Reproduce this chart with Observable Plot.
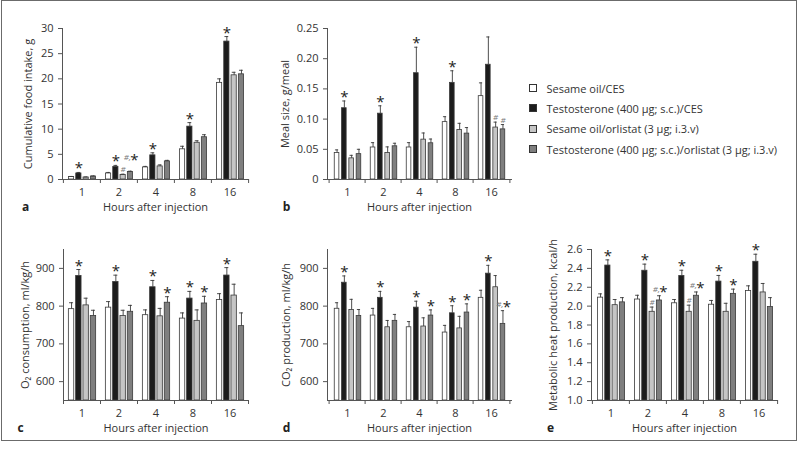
<!DOCTYPE html>
<html><head><meta charset="utf-8">
<script src="https://cdn.jsdelivr.net/npm/d3@7"></script>
<script src="https://cdn.jsdelivr.net/npm/@observablehq/plot@0.6"></script>
<style>
body{margin:0;background:#fff;font-family:"Open Sans",sans-serif;}
#fig{position:relative;width:800px;height:453px;overflow:hidden;}
.border{position:absolute;left:1px;top:0px;width:794px;height:439px;border:1.8px solid #6b6b6b;}
.panel{position:absolute;}
.legend{position:absolute;left:529px;top:78px;font-size:11px;color:#333;}
.legend .row{display:flex;align-items:center;height:20.3px;white-space:nowrap;}
.legend .sw{width:6px;height:6px;border:0.8px solid #333;margin-right:9.5px;flex:none;}
</style></head>
<body><div id="fig"><div class="border"></div></div>
<script>
// ---- categories & series ----
const hours = ["1", "2", "4", "8", "16"];
const seriesNames = [
  "Sesame oil/CES",
  "Testosterone (400 µg; s.c.)/CES",
  "Sesame oil/orlistat (3 µg; i.3.v)",
  "Testosterone (400 µg; s.c.)/orlistat (3 µg; i.3.v)"
];
const seriesFill = ["#ffffff", "#1c1c1c", "#c5c5c5", "#7f7f7f"];

// ---- (a) cumulative food intake, g ----
const foodMean = [[0.5, 1.2, 2.4, 6.0, 19.2], [1.2, 2.5, 4.8, 10.5, 27.4], [0.4, 0.9, 2.6, 7.3, 20.7], [0.6, 1.5, 3.6, 8.4, 20.9]];
const foodErr  = [[0.1, 0.2, 0.2, 0.6, 0.8], [0.2, 0.3, 0.5, 0.8, 1.0], [0.1, 0.15, 0.3, 0.4, 0.6], [0.1, 0.15, 0.2, 0.5, 0.8]];
const foodAnn  = [[1, "1", "*"], [1, "2", "*"], [2, "2", "#"], [3, "2", "#*"], [1, "4", "*"], [1, "8", "*"], [1, "16", "*"]];
const foodDomain = [0, 30];
const foodTicks = [0, 5, 10, 15, 20, 25, 30];
const foodTickLabels = ["0", "5", "10", "15", "20", "25", "30"];

// ---- (b) meal size, g/meal ----
const mealMean = [[0.044, 0.053, 0.053, 0.095, 0.138], [0.118, 0.109, 0.176, 0.160, 0.190], [0.035, 0.044, 0.066, 0.082, 0.086], [0.042, 0.055, 0.060, 0.076, 0.083]];
const mealErr  = [[0.005, 0.008, 0.008, 0.009, 0.022], [0.012, 0.013, 0.043, 0.020, 0.046], [0.005, 0.010, 0.011, 0.011, 0.009], [0.008, 0.005, 0.007, 0.010, 0.008]];
const mealAnn  = [[1, "1", "*"], [1, "2", "*"], [1, "4", "*"], [1, "8", "*"], [2, "16", "#"], [3, "16", "#"]];
const mealDomain = [0, 0.25];
const mealTicks = [0, 0.05, 0.10, 0.15, 0.20, 0.25];
const mealTickLabels = ["0", "0.05", "0.10", "0.15", "0.20", "0.25"];

// ---- (c) O2 consumption, ml/kg/h ----
const o2Mean = [[792, 796, 776, 767, 816], [880, 864, 850, 820, 881], [802, 774, 773, 761, 828], [774, 785, 809, 807, 747]];
const o2Err  = [[17, 16, 14, 15, 17], [17, 18, 18, 19, 21], [19, 15, 21, 29, 30], [15, 17, 16, 19, 35]];
const o2Ann  = [[1, "1", "*"], [1, "2", "*"], [1, "4", "*"], [3, "4", "*"], [1, "8", "*"], [3, "8", "*"], [1, "16", "*"]];
const o2Domain = [550, 950];
const o2Ticks = [600, 700, 800, 900];
const o2TickLabels = ["600", "700", "800", "900"];

// ---- (d) CO2 production, ml/kg/h ----
const co2Mean = [[793, 775, 744, 730, 822], [862, 822, 796, 781, 886], [790, 744, 746, 741, 850], [774, 761, 775, 783, 753]];
const co2Err  = [[16, 19, 15, 19, 20], [18, 17, 17, 20, 22], [28, 18, 23, 32, 31], [17, 17, 15, 23, 35]];
const co2Ann  = [[1, "1", "*"], [1, "2", "*"], [1, "4", "*"], [3, "4", "*"], [1, "8", "*"], [3, "8", "*"], [1, "16", "*"], [3, "16", "#*"]];
const co2Domain = [550, 950];
const co2Ticks = [600, 700, 800, 900];
const co2TickLabels = ["600", "700", "800", "900"];

// ---- (e) metabolic heat production, kcal/h ----
const heatMean = [[2.09, 2.07, 2.03, 2.015, 2.16], [2.43, 2.375, 2.32, 2.26, 2.47], [2.01, 1.94, 1.94, 1.94, 2.145], [2.04, 2.06, 2.11, 2.13, 1.99]];
const heatErr  = [[0.04, 0.045, 0.04, 0.045, 0.055], [0.06, 0.07, 0.06, 0.065, 0.08], [0.06, 0.05, 0.07, 0.09, 0.095], [0.05, 0.05, 0.04, 0.05, 0.10]];
const heatAnn  = [[1, "1", "*"], [1, "2", "*"], [2, "2", "#"], [3, "2", "#*"], [1, "4", "*"], [2, "4", "#"], [3, "4", "#*"], [1, "8", "*"], [3, "8", "*"], [1, "16", "*"]];
const heatDomain = [1.0, 2.6];
const heatTicks = [1.0, 1.2, 1.4, 1.6, 1.8, 2.0, 2.2, 2.4, 2.6];
const heatTickLabels = ["1.0", "1.2", "1.4", "1.6", "1.8", "2.0", "2.2", "2.4", "2.6"];

const xTitle = "Hours after injection";

const panels = [
  {letter: "a", title: "Cumulative food intake, g", mean: foodMean, err: foodErr, ann: foodAnn, domain: foodDomain, ticks: foodTicks, labels: foodTickLabels,
   plotLeft: 62, plotTop: 28, w: 186, titleDx: -34, letterDx: -37, comboLift: 7},
  {letter: "b", title: "Meal size, g/meal", mean: mealMean, err: mealErr, ann: mealAnn, domain: mealDomain, ticks: mealTicks, labels: mealTickLabels,
   plotLeft: 327, plotTop: 28, w: 184, titleDx: -42, letterDx: -41, comboLift: 0},
  {letter: "c", title: "O₂ consumption, ml/kg/h", mean: o2Mean, err: o2Err, ann: o2Ann, domain: o2Domain, ticks: o2Ticks, labels: o2TickLabels,
   plotLeft: 63, plotTop: 249, w: 185, titleDx: -38, letterDx: -43, comboLift: 0},
  {letter: "d", title: "CO₂ production, ml/kg/h", mean: co2Mean, err: co2Err, ann: co2Ann, domain: co2Domain, ticks: co2Ticks, labels: co2TickLabels,
   plotLeft: 327, plotTop: 249, w: 184, titleDx: -41, letterDx: -41, comboLift: 0},
  {letter: "e", title: "Metabolic heat production, kcal/h", mean: heatMean, err: heatErr, ann: heatAnn, domain: heatDomain, ticks: heatTicks, labels: heatTickLabels,
   plotLeft: 591, plotTop: 249, w: 186, titleDx: -38, letterDx: -41, comboLift: 0}
];

const fig = document.getElementById("fig");
const FONT = '"Open Sans", sans-serif';
const ink = "#3a3a3a";

function drawPanel(p) {
  const mL = 62, mT = 28, mR = 10, mB = 40, plotH = 151;
  const bw = p.w / hours.length;
  const rows = seriesNames.flatMap((s, j) => hours.map((h, i) => ({hour: h, j, value: p.mean[j][i], err: p.err[j][i]})));
  const topOf = r => r.value + r.err;
  const off = j => (j - 1.5) * 7.3 + 0.5;
  const barInset = (bw - 5.4) / 2, capInset = (bw - 4) / 2;
  const marks = [];
  seriesNames.forEach((s, j) => {
    const d = rows.filter(r => r.j === j);
    marks.push(Plot.barY(d, {x: "hour", y1: () => p.domain[0], y2: "value", dx: off(j), insetLeft: barInset, insetRight: barInset,
      fill: seriesFill[j], stroke: ink, strokeWidth: 0.8}));
    marks.push(Plot.ruleX(d, {x: "hour", y1: "value", y2: topOf, dx: off(j), stroke: ink, strokeWidth: 0.9}));
    marks.push(Plot.tickY(d, {x: "hour", y: topOf, dx: off(j), insetLeft: capInset, insetRight: capInset, stroke: ink, strokeWidth: 0.9}));
    const ann = p.ann.filter(a => a[0] === j).map(a => ({hour: a[1], sym: a[2], y: topOf(rows.find(r => r.j === j && r.hour === a[1]))}));
    marks.push(Plot.text(ann.filter(a => a.sym === "*"), {x: "hour", y: "y", text: () => "*", dx: off(j), dy: 1, lineAnchor: "bottom",
      fontSize: 15, fill: "#222"}));
    marks.push(Plot.text(ann.filter(a => a.sym === "#"), {x: "hour", y: "y", text: () => "#", dx: off(j), dy: -2, lineAnchor: "bottom",
      fontSize: 8, fontStyle: "italic", fill: "#777"}));
    const combo = ann.filter(a => a.sym === "#*");
    marks.push(Plot.text(combo, {x: "hour", y: "y", text: () => "*", dx: off(j) + 4, dy: 1 - p.comboLift, lineAnchor: "bottom", fontSize: 15, fill: "#222"}));
    marks.push(Plot.text(combo, {x: "hour", y: "y", text: () => "#,", dx: off(j) + 0.5, dy: -4 - p.comboLift, textAnchor: "end", lineAnchor: "bottom",
      fontSize: 8, fontStyle: "italic", fill: "#777"}));
  });
  marks.push(
    Plot.frame({anchor: "left", stroke: "#555"}),
    Plot.frame({anchor: "bottom", stroke: "#555"}),
    Plot.axisY({ticks: p.ticks, tickFormat: (d) => p.labels[p.ticks.indexOf(d)], tickSize: 4, tickPadding: 5, label: null, stroke: "#555"}),
    Plot.axisX({tickSize: 0, tickPadding: 9, label: null}),
    Plot.axisX({tickSize: 4, tickFormat: () => "", dx: -bw / 2, label: null, stroke: "#555"}),
    Plot.axisX({ticks: [hours[hours.length - 1]], tickSize: 4, tickFormat: () => "", dx: bw / 2, label: null, stroke: "#555"}),
    Plot.text([p.title], {frameAnchor: "left", rotate: -90, dx: p.titleDx, textAnchor: "middle", lineAnchor: "middle", fontSize: 11, fill: "#333"}),
    Plot.text([xTitle], {frameAnchor: "bottom", dy: 28, textAnchor: "middle", lineAnchor: "middle", fontSize: 11, fill: "#333"}),
    Plot.text([p.letter], {frameAnchor: "bottom-left", dx: p.letterDx, dy: 28, textAnchor: "middle", lineAnchor: "middle", fontSize: 12, fontWeight: "bold", fill: "#222"})
  );
  const chart = Plot.plot({
    width: mL + p.w + mR, height: mT + plotH + mB,
    marginLeft: mL, marginTop: mT, marginRight: mR, marginBottom: mB,
    x: {type: "band", domain: hours, padding: 0, axis: null},
    y: {domain: p.domain, axis: null},
    style: {fontFamily: FONT, fontSize: "11px", color: "#333", background: "transparent", overflow: "visible"},
    marks
  });
  const div = document.createElement("div");
  div.className = "panel";
  div.style.left = (p.plotLeft - mL) + "px";
  div.style.top = (p.plotTop - mT) + "px";
  div.style.width = (mL + p.w + mR) + "px";
  div.appendChild(chart);
  fig.appendChild(div);
}
panels.forEach(drawPanel);

// legend
const leg = document.createElement("div");
leg.className = "legend";
seriesNames.forEach((s, j) => {
  const row = document.createElement("div");
  row.className = "row";
  const sw = document.createElement("span");
  sw.className = "sw";
  sw.style.background = seriesFill[j];
  const t = document.createElement("span");
  t.textContent = s;
  row.appendChild(sw); row.appendChild(t);
  leg.appendChild(row);
});
fig.appendChild(leg);
</script>
</body></html>
